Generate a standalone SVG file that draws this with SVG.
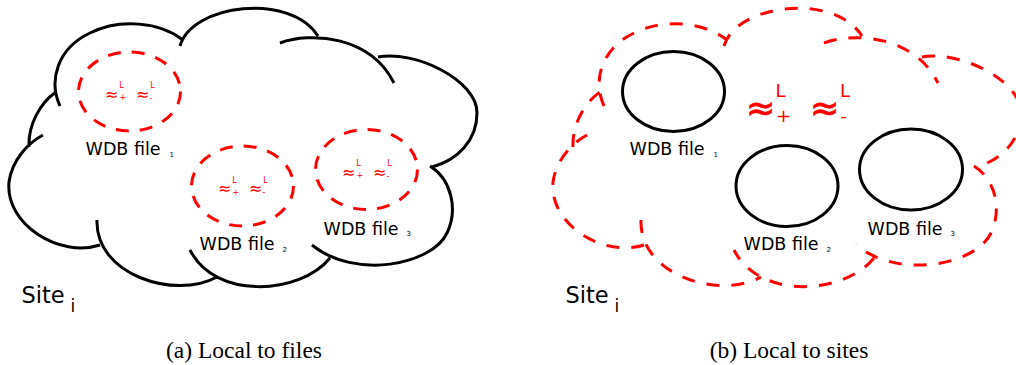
<svg xmlns="http://www.w3.org/2000/svg" xmlns:xlink="http://www.w3.org/1999/xlink" width="1016" height="365" viewBox="0 0 1016 365">
<style>
.bg{fill:#fff}
.cloud{fill:none;stroke:#000;stroke-width:3}
.cloud-dash{fill:none;stroke:#f00;stroke-width:3;stroke-dasharray:13 12}
.file-dash{fill:none;stroke:#f00;stroke-width:3;stroke-dasharray:13 11}
.file{fill:none;stroke:#000;stroke-width:3}
.lbl{font-family:"DejaVu Sans","Liberation Sans",sans-serif;font-size:17.5px;fill:#000}
.sub{font-size:7px}
.site{font-size:22.5px}
.sitesub{font-size:17px}
.apx{font-family:"DejaVu Sans","Liberation Sans",sans-serif;fill:#f00}
.a16{font-size:16px}
.a8{font-size:8px}
.a35{font-size:35px;stroke:#f00;stroke-width:0.8}
.a18{font-size:18px;stroke:none}
.cap{font-family:"Liberation Serif","Times New Roman",serif;font-size:23.5px;fill:#000;text-anchor:middle}
</style>
<defs>
<path id="cloudpath" d="M60,106 C48,80 58,48 90,33 C120,18 160,22 183,40 M180,46 C192,4 290,-8 318,36 M280,43 C310,32 370,35 394,83 M378,57 C415,50 477,80 477,113 C477,140 458,160 432,167 M430,166 C452,180 458,210 447,233 C432,265 355,280 312,245 M330,258 C300,295 215,300 190,250 M97,220 C95,275 175,300 217,277 M100,245 C60,258 5,225 9,182 C12,160 28,143 43,135 M29,147 C28,125 40,103 56,92"/>
</defs>
<rect class="bg" x="0" y="0" width="1016" height="365"/>
<g id="connectors"/>

<!-- (a) Local to files -->
<g id="site-a">
<use xlink:href="#cloudpath" href="#cloudpath" class="cloud"/>
<text class="lbl site" x="21.5" y="303">Site</text>
<text class="lbl sitesub" x="70.5" y="312">i</text>
</g>
<g id="file-a1">
<ellipse class="file-dash" cx="129.5" cy="91.5" rx="51" ry="39.5"/>
<text class="apx a16" transform="translate(129.5,91.5)" x="-24.5" y="8">≈<tspan class="a8" x="-10.3" y="-3.5">L</tspan><tspan class="a8" x="-10" y="8.5">+</tspan><tspan x="6.5" y="8">≈</tspan><tspan class="a8" x="20.7" y="-3.5">L</tspan><tspan class="a8" x="20" y="9">-</tspan></text>
<text class="lbl" x="85.6" y="155">WDB file</text><text class="lbl sub" x="169.5" y="157">1</text>
</g>
<g id="file-a2">
<ellipse class="file-dash" cx="242.5" cy="186" rx="51" ry="40"/>
<text class="apx a16" transform="translate(242.5,186)" x="-24.5" y="8">≈<tspan class="a8" x="-10.3" y="-3.5">L</tspan><tspan class="a8" x="-10" y="8.5">+</tspan><tspan x="6.5" y="8">≈</tspan><tspan class="a8" x="20.7" y="-3.5">L</tspan><tspan class="a8" x="20" y="9">-</tspan></text>
<text class="lbl" x="199.6" y="250">WDB file</text><text class="lbl sub" x="282.5" y="252">2</text>
</g>
<g id="file-a3">
<ellipse class="file-dash" cx="366.5" cy="169.5" rx="51" ry="40"/>
<text class="apx a16" transform="translate(366.5,169.5)" x="-24.5" y="8">≈<tspan class="a8" x="-10.3" y="-3.5">L</tspan><tspan class="a8" x="-10" y="8.5">+</tspan><tspan x="6.5" y="8">≈</tspan><tspan class="a8" x="20.7" y="-3.5">L</tspan><tspan class="a8" x="20" y="9">-</tspan></text>
<text class="lbl" x="323.6" y="235">WDB file</text><text class="lbl sub" x="406.5" y="236">3</text>
</g>
<text id="caption-a" class="cap" x="244" y="357.5">(a) Local to files</text>

<!-- (b) Local to sites -->
<g id="site-b">
<use xlink:href="#cloudpath" href="#cloudpath" class="cloud-dash" x="544"/>
<text class="lbl site" x="565.5" y="303">Site</text>
<text class="lbl sitesub" x="614.5" y="312">i</text>
<text class="apx a35" x="746" y="120">≈<tspan class="a18" x="775.5" y="97">L</tspan><tspan class="a18" x="776" y="122">+</tspan><tspan x="810" y="120">≈</tspan><tspan class="a18" x="840" y="97">L</tspan><tspan class="a18" x="840.5" y="122">-</tspan></text>
</g>
<g id="file-b1">
<ellipse class="file" cx="673.5" cy="91.5" rx="51" ry="40"/>
<text class="lbl" x="629.6" y="155">WDB file</text><text class="lbl sub" x="713.5" y="157">1</text>
</g>
<g id="file-b2">
<ellipse class="file" cx="787" cy="186" rx="51" ry="40.5"/>
<text class="lbl" x="743.6" y="250">WDB file</text><text class="lbl sub" x="826.5" y="252">2</text>
</g>
<g id="file-b3">
<ellipse class="file" cx="911" cy="169.5" rx="51.5" ry="40.5"/>
<text class="lbl" x="867.6" y="235">WDB file</text><text class="lbl sub" x="950.5" y="236">3</text>
</g>
<text id="caption-b" class="cap" x="789" y="357.5">(b) Local to sites</text>
</svg>
